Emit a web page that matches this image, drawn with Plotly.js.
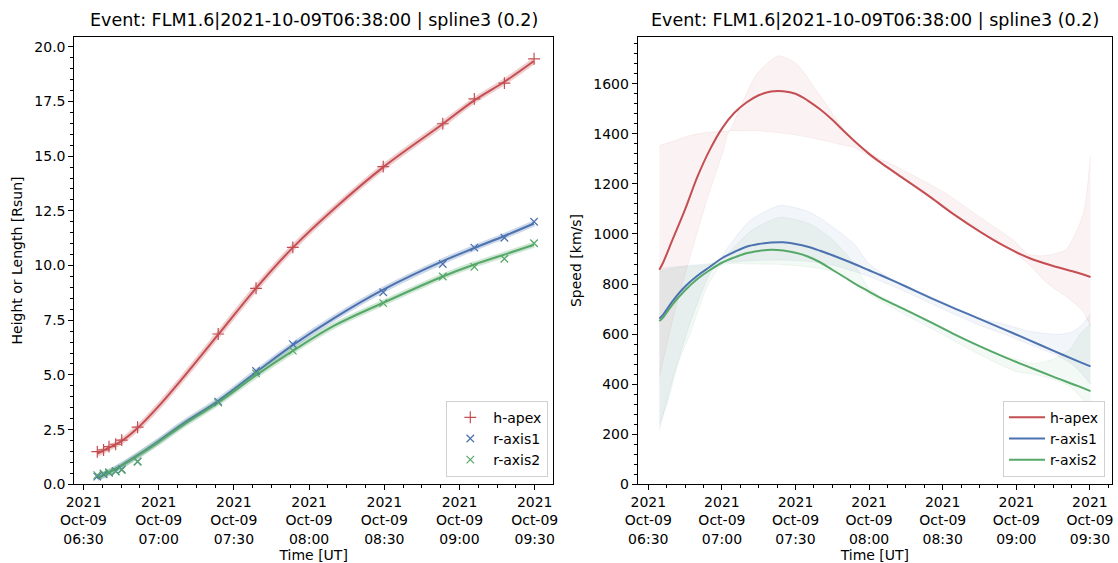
<!DOCTYPE html>
<html>
<head>
<meta charset="utf-8">
<script src="https://cdn.plot.ly/plotly-3.0.1.min.js"></script>
<style>html,body{margin:0;padding:0;background:#fff;}#chart{width:1118px;height:563px;}</style>
</head>
<body>
<div id="chart"></div>
<script>
// ---------- data (times are 2021-10-09 UT) ----------
const DAY = '2021-10-09 ';
const seriesNames = ['h-apex', 'r-axis1', 'r-axis2'];
const seriesColors = ['#C44E52', '#4C72B0', '#55A868'];

// observed points (left panel)
const obsTime = ['06:35:30','06:38:00','06:40:10','06:42:50','06:45:15','06:51:35','07:23:45','07:38:50','07:53:30','08:29:35','08:53:20','09:05:55','09:17:55','09:29:45'];
const hApexObs  = [1.49, 1.57, 1.72, 1.83, 2.02, 2.61, 6.87, 8.96, 10.83, 14.52, 16.48, 17.62, 18.34, 19.45];
const rAxis1Obs = [0.35, 0.46, 0.52, 0.60, 0.68, 1.05, 3.78, 5.18, 6.41, 8.78, 10.07, 10.82, 11.27, 12.00];
const rAxis2Obs = [0.42, 0.50, 0.55, 0.58, 0.65, 1.03, 3.73, 5.07, 6.11, 8.28, 9.50, 9.94, 10.31, 11.02];

// spline fits (left panel)
const fitTime = ['06:35:30','06:40:00','06:45:00','06:51:36','07:00:00','07:10:00','07:23:48','07:38:48','07:53:30','08:10:00','08:29:36','08:53:18','09:05:54','09:17:54','09:29:42'];
const hApexFit  = [1.40, 1.66, 1.96, 2.57, 3.57, 4.91, 6.85, 8.96, 10.82, 12.60, 14.50, 16.47, 17.55, 18.40, 19.35];
const rAxis1Fit = [0.30, 0.55, 0.86, 1.33, 1.98, 2.80, 3.82, 5.12, 6.36, 7.60, 8.90, 10.20, 10.80, 11.35, 11.92];
const rAxis2Fit = [0.27, 0.52, 0.83, 1.30, 1.93, 2.73, 3.74, 4.98, 6.10, 7.25, 8.30, 9.50, 10.05, 10.50, 10.95];

// speeds (right panel)
const speedTime = ['06:34:30','06:36:00','06:40:00','06:45:00','06:50:00','06:55:00','07:00:00','07:05:00','07:10:00','07:15:00','07:20:00','07:25:00','07:30:00','07:35:00','07:40:00','07:45:00','07:50:00','07:55:00','08:00:00','08:05:00','08:15:00','08:25:00','08:35:00','08:45:00','08:55:00','09:05:00','09:15:00','09:25:00','09:30:15'];
const hApexSpeed  = [857, 885, 980, 1098, 1228, 1335, 1421, 1483, 1525, 1554, 1569, 1570, 1560, 1533, 1498, 1456, 1408, 1362, 1320, 1283, 1215, 1147, 1075, 1010, 952, 905, 872, 845, 828];
const rAxis1Speed = [662, 677, 733, 790, 833, 868, 903, 928, 949, 960, 966, 967, 960, 949, 933, 915, 896, 876, 855, 834, 790, 745, 702, 661, 619, 577, 534, 492, 471];
const rAxis2Speed = [652, 666, 720, 775, 820, 855, 885, 906, 923, 932, 937, 934, 925, 910, 887, 857, 827, 797, 770, 743, 696, 648, 598, 552, 509, 469, 430, 393, 372];

// uncertainty bands (right panel)
const hApexBandTime = ['06:34:30','06:40:12','06:47:00','06:53:48','07:00:36','07:03:00','07:07:24','07:14:12','07:23:00','07:30:30','07:38:36','07:48:06','07:54:00','08:04:24','08:12:36','08:31:36','08:45:12','08:58:48','09:05:00','09:12:24','09:20:30','09:27:18','09:30:15'];
const hApexBandHi = [1353, 1370, 1393, 1405, 1410, 1411, 1505, 1639, 1712, 1679, 1572, 1439, 1362, 1300, 1262, 1160, 1067, 975, 918, 914, 940, 1080, 1313];
const hApexBandLo = [429, 668, 907, 1134, 1333, 1411, 1412, 1413, 1405, 1395, 1380, 1358, 1345, 1285, 1235, 1095, 1020, 930, 880, 805, 748, 690, 630];

const rAxis1BandTime = ['06:34:30','06:40:12','06:47:00','06:53:48','06:58:00','07:02:00','07:11:30','07:23:42','07:35:54','07:45:24','07:54:00','08:00:00','08:10:00','08:18:00','08:30:00','08:45:00','08:55:00','09:05:00','09:16:30','09:22:00','09:26:00','09:30:15'];
const rAxis1BandHi = [861, 868, 875, 880, 885, 941, 1054, 1114, 1087, 1027, 960, 880, 815, 781, 728, 663, 640, 612, 599, 606, 630, 680];
const rAxis1BandLo = [217, 429, 642, 815, 884, 886, 893, 896, 890, 875, 850, 830, 790, 755, 700, 635, 600, 560, 515, 485, 450, 400];

const rAxis2BandTime = ['06:34:30','06:38:00','06:42:00','06:47:00','06:54:00','07:00:00','07:11:30','07:23:42','07:35:54','07:45:24','07:54:00','08:00:00','08:12:36','08:26:12','08:39:48','08:53:18','09:00:00','09:07:00','09:15:00','09:22:00','09:26:00','09:30:15'];
const rAxis2BandHi = [850, 858, 865, 870, 875, 900, 1010, 1067, 1040, 975, 880, 782, 712, 646, 578, 518, 500, 482, 500, 540, 600, 640];
const rAxis2BandLo = [240, 330, 480, 600, 790, 876, 880, 878, 868, 850, 815, 760, 688, 618, 545, 478, 450, 440, 420, 390, 350, 310];

// axes
const tickTimes = ['06:30','07:00','07:30','08:00','08:30','09:00','09:30'];
const tickLabels = tickTimes.map(t => '2021<br>Oct-09<br>' + t);
const titleText = 'Event: FLM1.6|2021-10-09T06:38:00 | spline3 (0.2)';

// ---------- build ----------
const ts = arr => arr.map(t => DAY + t);
const rgba = (hex, a) => {
  const n = parseInt(hex.slice(1), 16);
  return `rgba(${(n >> 16) & 255},${(n >> 8) & 255},${n & 255},${a})`;
};

const obsVals = [hApexObs, rAxis1Obs, rAxis2Obs];
const fitVals = [hApexFit, rAxis1Fit, rAxis2Fit];
const speedVals = [hApexSpeed, rAxis1Speed, rAxis2Speed];
const bandTimes = [hApexBandTime, rAxis1BandTime, rAxis2BandTime];
const bandHi = [hApexBandHi, rAxis1BandHi, rAxis2BandHi];
const bandLo = [hApexBandLo, rAxis1BandLo, rAxis2BandLo];
const symbols = ['cross-thin-open', 'x-thin-open', 'x-thin-open'];

const traces = [];
// left: fit halos and lines
for (let i = 0; i < 3; i++) {
  traces.push({x: ts(fitTime), y: fitVals[i], xaxis: 'x', yaxis: 'y', mode: 'lines',
    line: {color: rgba(seriesColors[i], 0.28), width: 6, shape: 'spline', smoothing: 1},
    showlegend: false, hoverinfo: 'skip'});
  traces.push({x: ts(fitTime), y: fitVals[i], xaxis: 'x', yaxis: 'y', mode: 'lines',
    line: {color: seriesColors[i], width: 2, shape: 'spline', smoothing: 1},
    showlegend: false, hoverinfo: 'skip'});
}
// left: observed markers
for (let i = 0; i < 3; i++) {
  traces.push({x: ts(obsTime), y: obsVals[i], xaxis: 'x', yaxis: 'y', mode: 'markers',
    name: seriesNames[i], legend: 'legend', legendgroup: 'L' + i,
    marker: {symbol: symbols[i], size: i === 0 ? 8.5 : 7.5, color: seriesColors[i],
      line: {color: seriesColors[i], width: 1.2}}});
}
// right: bands
for (let i = 0; i < 3; i++) {
  traces.push({x: ts(bandTimes[i]), y: bandLo[i], xaxis: 'x2', yaxis: 'y2', mode: 'lines',
    line: {color: rgba(seriesColors[i], 0.1), width: 0.8, shape: 'spline', smoothing: 0.6},
    showlegend: false, hoverinfo: 'skip'});
  traces.push({x: ts(bandTimes[i]), y: bandHi[i], xaxis: 'x2', yaxis: 'y2', mode: 'lines',
    fill: 'tonexty', fillcolor: rgba(seriesColors[i], 0.07),
    line: {color: rgba(seriesColors[i], 0.1), width: 0.8, shape: 'spline', smoothing: 0.6},
    showlegend: false, hoverinfo: 'skip'});
}
// right: speed lines
for (let i = 0; i < 3; i++) {
  traces.push({x: ts(speedTime), y: speedVals[i], xaxis: 'x2', yaxis: 'y2', mode: 'lines',
    name: seriesNames[i], legend: 'legend2', legendgroup: 'R' + i,
    line: {color: seriesColors[i], width: 2, shape: 'spline', smoothing: 1}});
}

const font = {family: 'DejaVu Sans', size: 14, color: '#000'};
const W = 1118, H = 563;
const xAxisBase = {
  type: 'date', tickmode: 'array', tickvals: ts(tickTimes), ticktext: tickLabels,
  showline: true, mirror: true, linecolor: '#000', linewidth: 1,
  ticks: 'outside', ticklen: 5, tickwidth: 1, tickcolor: '#000',
  showgrid: false, zeroline: false, tickfont: font,
  minor: {tick0: DAY + '06:30:00', dtick: 450000, ticks: 'outside', ticklen: 3, tickwidth: 1, tickcolor: '#000', showgrid: false},
  title: {text: 'Time [UT]', font: font, standoff: 5}
};
const yAxisBase = {
  showline: true, mirror: true, linecolor: '#000', linewidth: 1,
  ticks: 'outside', ticklen: 5, tickwidth: 1, tickcolor: '#000',
  showgrid: false, zeroline: false, tickfont: font
};
const legendBase = {
  xanchor: 'right', yanchor: 'bottom', bgcolor: '#fff', bordercolor: '#d0d0d0', borderwidth: 1,
  font: font, traceorder: 'grouped', tracegroupgap: 0, itemwidth: 36
};

const layout = {
  width: W, height: H, margin: {l: 0, r: 0, t: 0, b: 0},
  paper_bgcolor: '#fff', plot_bgcolor: '#fff', font: font,
  xaxis: Object.assign({}, xAxisBase, {domain: [74.3 / W, 553 / W], anchor: 'y',
    range: [DAY + '06:26:20', DAY + '09:37:18']}),
  xaxis2: Object.assign({}, xAxisBase, {domain: [637.7 / W, 1112 / W], anchor: 'y2',
    range: [DAY + '06:25:41', DAY + '09:39:00']}),
  yaxis: Object.assign({}, yAxisBase, {domain: [1 - 484.3 / H, 1 - 36.7 / H], anchor: 'x',
    range: [0, 20.46], tick0: 0, dtick: 2.5, tickformat: '.1f',
    minor: {dtick: 0.5, ticks: 'outside', ticklen: 3, tickwidth: 1, tickcolor: '#000', showgrid: false},
    title: {text: 'Height or Length [Rsun]', font: font, standoff: 8}}),
  yaxis2: Object.assign({}, yAxisBase, {domain: [1 - 484.3 / H, 1 - 36.7 / H], anchor: 'x2',
    range: [0, 1788], tick0: 0, dtick: 200,
    minor: {dtick: 40, ticks: 'outside', ticklen: 3, tickwidth: 1, tickcolor: '#000', showgrid: false},
    title: {text: 'Speed [km/s]', font: font, standoff: 8}}),
  legend: Object.assign({}, legendBase, {x: 548.3 / W, y: 1 - 476.7 / H}),
  legend2: Object.assign({}, legendBase, {x: 1105 / W, y: 1 - 476.7 / H}),
  annotations: [
    {text: titleText, xref: 'paper', yref: 'paper', x: (74.3 + 553) / 2 / W, y: 1 - 20 / H,
      xanchor: 'center', yanchor: 'middle', showarrow: false, font: {family: 'DejaVu Sans', size: 17.5, color: '#000'}},
    {text: titleText, xref: 'paper', yref: 'paper', x: (637.7 + 1112) / 2 / W, y: 1 - 20 / H,
      xanchor: 'center', yanchor: 'middle', showarrow: false, font: {family: 'DejaVu Sans', size: 17.5, color: '#000'}}
  ],
  showlegend: true
};

Plotly.newPlot('chart', traces, layout, {displayModeBar: false, staticPlot: true});
</script>
</body>
</html>
